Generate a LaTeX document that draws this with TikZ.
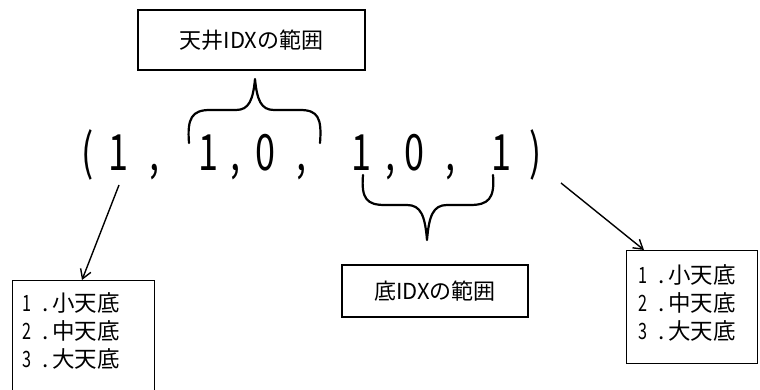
\documentclass[tikz,border=0pt]{standalone}
\usepackage{fontspec}
\setmainfont{Noto Sans CJK JP}
\usetikzlibrary{arrows.meta}
\newcommand{\nrw}[1]{\scalebox{0.72}[1]{#1}}
\begin{document}
\begin{tikzpicture}[x=1pt,y=-1pt,
  big/.style={font=\fontsize{50}{54}\selectfont, inner sep=0pt, anchor=base},
  box/.style={draw, line width=1.4pt, font=\fontsize{22}{28}\selectfont, inner sep=0pt},
  listtext/.style={font=\fontsize{22.5}{28}\selectfont, anchor=north west, inner sep=0pt, align=left},
  brace/.style={line width=2.2pt, line cap=round, line join=round},
  arr/.style={line width=1.4pt, -{Straight Barb[length=9pt,width=11pt,line width=1.4pt]}}]
\useasboundingbox (0,0) rectangle (760,390);
\begin{scope}
\clip (0,0) rectangle (760,390);
% top box
\node[box, minimum width=227pt, minimum height=60pt] (tbox) at (251.5,40) {天井IDXの範囲};
% bottom box
\node[box, minimum width=186pt, minimum height=52pt] (bbox) at (435,291) {底IDXの範囲};
% left box
\node[box, minimum width=142pt, minimum height=120pt, anchor=north west] (lbox) at (12,280) {};
\node[listtext] (ltext) at (22,292)
  {\nrw{1}\enspace.\,小天底\\\nrw{2}\enspace.\,中天底\\\nrw{3}\enspace.\,大天底};
% right box
\node[box, minimum width=131pt, minimum height=113pt, anchor=north west] (rbox) at (626,250) {};
\node[listtext] (rtext) at (638,264)
  {\nrw{1}\enspace.\,小天底\\\nrw{2}\enspace.\,中天底\\\nrw{3}\enspace.\,大天底};
\end{scope}
% the tuple
\node[big] (lp) at (88,171) {\nrw{(}};
\node[big] (d1) at (118,171) {\nrw{1}};
\node[big] (c1) at (155,171) {\nrw{,}};
\node[big] (d2) at (208,171) {\nrw{1}};
\node[big] (c2) at (236,171) {\nrw{,}};
\node[big] (d3) at (265,171) {\nrw{0}};
\node[big] (c3) at (302,171) {\nrw{,}};
\node[big] (d4) at (361,171) {\nrw{1}};
\node[big] (c4) at (390,171) {\nrw{,}};
\node[big] (d5) at (414,171) {\nrw{0}};
\node[big] (c5) at (450,171) {\nrw{,}};
\node[big] (d6) at (501,171) {\nrw{1}};
\node[big] (rp) at (536,171) {\nrw{)}};
% braces
\draw[brace] (189,143) .. controls (187,118) and (192,110) .. (210,110) -- (236,110)
  .. controls (249,110) and (253,100) .. (255,79)
  .. controls (257,100) and (261,110) .. (274,110) -- (300,110)
  .. controls (318,110) and (322,118) .. (320,143);
\draw[brace] (363,175) .. controls (361,199) and (367,205) .. (385,205) -- (407,205)
  .. controls (421,205) and (425,216) .. (427,240)
  .. controls (429,216) and (433,205) .. (447,205) -- (470,205)
  .. controls (488,205) and (495,199) .. (493,175);
% arrows
\coordinate (a1s) at (119,185);
\coordinate (a2s) at (561,183);
\coordinate (a2e) at (644,250);
\draw[arr] (a1s) -- (lbox.north -| 82,0);
\draw[arr] (a2s) -- (a2e);
\end{tikzpicture}
\end{document}
